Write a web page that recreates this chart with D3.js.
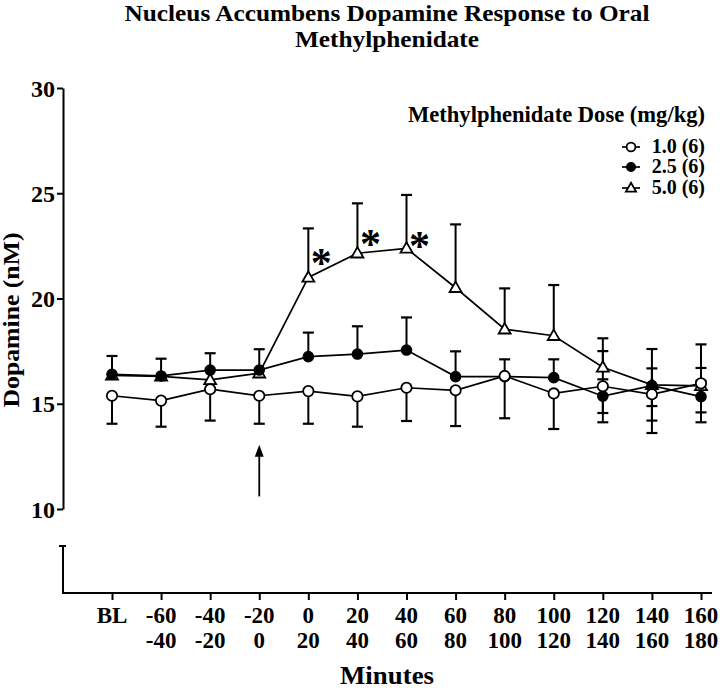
<!DOCTYPE html>
<html>
<head>
<meta charset="utf-8">
<script src="https://cdn.jsdelivr.net/npm/d3@7"></script>
<style>
  html, body { margin: 0; padding: 0; background: #fff; }
  svg { display: block; }
  text { font-family: "Liberation Serif", "Times New Roman", serif; font-weight: bold; fill: #000; }
</style>
</head>
<body>
<svg id="chart" width="720" height="692"></svg>
<script>
// ---------------- DATA ----------------
const categories    = ["BL","-60","-40","-20","0","20","40","60","80","100","120","140","160"];
const categoriesEnd = ["","-40","-20","0","20","40","60","80","100","120","140","160","180"];
const yTicks = [10, 15, 20, 25, 30];

const seriesNames = ["1.0 (6)", "2.5 (6)", "5.0 (6)"];
const seriesSymbols = ["openCircle", "filledCircle", "openTriangle"];

const dose10      = [15.38, 15.15, 15.69, 15.38, 15.60, 15.35, 15.76, 15.64, 16.32, 15.49, 15.83, 15.45, 15.97];
const dose10Up    = [null, null, null, null, null, null, null, null, null, null, 1.67, null, 1.85];
const dose10Down  = [1.33, 1.24, 1.49, 1.33, 1.55, 1.44, 1.58, 1.70, 2.01, 1.69, 1.71, 1.84, 1.85];

const dose25      = [16.40, 16.32, 16.60, 16.60, 17.24, 17.36, 17.55, 16.29, 16.29, 16.24, 15.36, 15.86, 15.34];
const dose25Up    = [0.87, 0.82, 0.80, 0.99, 1.14, 1.32, 1.55, 1.20, 0.82, 0.87, 0.80, 0.82, 0.75];
const dose25Down  = [null, null, null, null, null, null, null, null, null, null, 0.80, 0.97, 0.75];

const dose50      = [16.35, 16.30, 16.13, 16.45, 21.00, 22.15, 22.38, 20.51, 18.54, 18.23, 16.73, 15.90, 15.85];
const dose50Up    = [null, null, null, null, 2.33, 2.37, 2.54, 3.01, 1.94, 2.41, 1.38, 1.70, 0.85];
const dose50Down  = [null, null, null, null, null, null, null, null, null, null, null, 1.70, null];

// significance markers (on the 5.0 mg/kg series)
const sigCategories = ["0", "20", "40"];
const sigLevels     = [21.97, 22.87, 22.78];

// dosing arrow
const arrowCategory = "-20";
const arrowFrom = 10.6, arrowTo = 13.05;

const titleLines = ["Nucleus Accumbens Dopamine Response to Oral", "Methylphenidate"];
const legendTitle = "Methylphenidate Dose (mg/kg)";
const yLabel = "Dopamine (nM)";
const xLabel = "Minutes";

// ---------------- CHART ----------------
const svg = d3.select("#chart");

const x = d3.scalePoint().domain(categories).range([112, 701]);
const y = d3.scaleLinear().domain([10, 30]).range([509, 88]);

const axisX0 = 63, axisX1 = 712, axisY = 593, breakTop = 546;

// Title
svg.append("text").attr("x", 387).attr("y", 21).attr("text-anchor", "middle")
  .style("font-size", "23px").attr("textLength", 525).attr("lengthAdjust", "spacingAndGlyphs")
  .text(titleLines[0]);
svg.append("text").attr("x", 387).attr("y", 47).attr("text-anchor", "middle")
  .style("font-size", "23px").attr("textLength", 184).attr("lengthAdjust", "spacingAndGlyphs")
  .text(titleLines[1]);

// Y axis (upper segment)
const yAxis = d3.axisLeft(y).tickValues(yTicks).tickSize(6).tickSizeOuter(0).tickFormat(d3.format("d"));
const gy = svg.append("g").attr("transform", `translate(${axisX0},0)`).call(yAxis);
gy.select(".domain").attr("stroke", "#000").attr("stroke-width", 2);
gy.selectAll(".tick line").attr("stroke", "#000").attr("stroke-width", 2);
gy.selectAll(".tick text").attr("x", -8).attr("dy", "0.34em")
  .style("font-size", "24px").style("font-family", "'Liberation Serif', serif").style("font-weight", "bold");

// Y axis lower segment (after break)
svg.append("line").attr("x1", axisX0).attr("x2", axisX0).attr("y1", breakTop).attr("y2", axisY)
  .attr("stroke", "#000").attr("stroke-width", 2);
svg.append("line").attr("x1", axisX0 - 4).attr("x2", axisX0 + 3).attr("y1", breakTop).attr("y2", breakTop)
  .attr("stroke", "#000").attr("stroke-width", 2);

// X axis
svg.append("line").attr("x1", axisX0 - 1).attr("x2", axisX1).attr("y1", axisY).attr("y2", axisY)
  .attr("stroke", "#000").attr("stroke-width", 2);
const xAxis = d3.axisBottom(x).tickSize(7).tickSizeOuter(0).tickFormat("");
const gx = svg.append("g").attr("transform", `translate(0,${axisY})`).call(xAxis);
gx.select(".domain").remove();
gx.selectAll(".tick line").attr("stroke", "#000").attr("stroke-width", 2);

svg.append("g").selectAll("text.r1").data(categories).join("text")
  .attr("x", d => x(d)).attr("y", 623).attr("text-anchor", "middle")
  .style("font-size", "23px").text(d => d);
svg.append("g").selectAll("text.r2").data(categories).join("text")
  .attr("x", d => x(d)).attr("y", 648).attr("text-anchor", "middle")
  .style("font-size", "23px").text((d, i) => categoriesEnd[i]);

// Axis titles
svg.append("text").attr("x", 387).attr("y", 684).attr("text-anchor", "middle")
  .style("font-size", "25px").attr("textLength", 94).attr("lengthAdjust", "spacingAndGlyphs").text(xLabel);
svg.append("text").attr("transform", "translate(19,320) rotate(-90)").attr("text-anchor", "middle")
  .style("font-size", "23px").attr("textLength", 175).attr("lengthAdjust", "spacingAndGlyphs").text(yLabel);

// Series
const series = [
  { name: seriesNames[0], sym: seriesSymbols[0], vals: dose10, up: dose10Up, down: dose10Down },
  { name: seriesNames[1], sym: seriesSymbols[1], vals: dose25, up: dose25Up, down: dose25Down },
  { name: seriesNames[2], sym: seriesSymbols[2], vals: dose50, up: dose50Up, down: dose50Down }
];

const capHalf = 5.5;
const line = d3.line().x((d, i) => x(categories[i])).y(d => y(d));

function drawMarker(g, sym, cx, cy, scale) {
  const s = scale || 1;
  if (sym === "openCircle") {
    g.append("circle").attr("cx", cx).attr("cy", cy).attr("r", 5.2 * s)
      .attr("fill", "#fff").attr("stroke", "#000").attr("stroke-width", 1.8);
  } else if (sym === "filledCircle") {
    g.append("circle").attr("cx", cx).attr("cy", cy).attr("r", 5.2 * s)
      .attr("fill", "#000").attr("stroke", "#000").attr("stroke-width", 1.2);
  } else {
    const sz = d3.symbol().type(d3.symbolTriangle).size(62 * s * s);
    g.append("path").attr("d", sz()).attr("transform", `translate(${cx},${cy + 0.8 * s})`)
      .attr("fill", "#fff").attr("stroke", "#000").attr("stroke-width", 1.8);
  }
}

// error bars first
const gErr = svg.append("g");
series.forEach(s => {
  s.vals.forEach((v, i) => {
    const cx = x(categories[i]);
    [[s.up[i], 1], [s.down[i], -1]].forEach(([e, dir]) => {
      if (e == null) return;
      const yEnd = y(v + dir * e);
      gErr.append("line").attr("x1", cx).attr("x2", cx).attr("y1", y(v)).attr("y2", yEnd)
        .attr("stroke", "#000").attr("stroke-width", 2);
      gErr.append("line").attr("x1", cx - capHalf).attr("x2", cx + capHalf).attr("y1", yEnd).attr("y2", yEnd)
        .attr("stroke", "#000").attr("stroke-width", 2.2);
    });
  });
});

// lines and markers, triangles at back, open circles in front
[2, 1, 0].forEach(k => {
  const s = series[k];
  svg.append("path").datum(s.vals).attr("d", line)
    .attr("fill", "none").attr("stroke", "#000").attr("stroke-width", 1.7);
});
[2, 1, 0].forEach(k => {
  const s = series[k];
  const g = svg.append("g");
  s.vals.forEach((v, i) => drawMarker(g, s.sym, x(categories[i]), y(v)));
});

// significance asterisks
sigCategories.forEach((c, i) => {
  svg.append("text").attr("x", x(c) + 13).attr("y", y(sigLevels[i]) + 20)
    .attr("text-anchor", "middle").style("font-size", "42px").text("*");
});

// arrow
const ax = x(arrowCategory);
svg.append("line").attr("x1", ax).attr("x2", ax).attr("y1", y(arrowFrom)).attr("y2", y(arrowTo) + 9)
  .attr("stroke", "#000").attr("stroke-width", 1.8);
svg.append("path")
  .attr("d", `M${ax},${y(arrowTo)} L${ax - 4.5},${y(arrowTo) + 12} L${ax + 4.5},${y(arrowTo) + 12} Z`)
  .attr("fill", "#000");

// Legend
svg.append("text").attr("x", 705).attr("y", 122).attr("text-anchor", "end")
  .style("font-size", "23px").attr("textLength", 297).attr("lengthAdjust", "spacingAndGlyphs").text(legendTitle);
const legendBase = [153, 173, 194];
series.forEach((s, i) => {
  const g = svg.append("g");
  const cy = legendBase[i] - 6;
  g.append("line").attr("x1", 622).attr("x2", 640).attr("y1", cy).attr("y2", cy)
    .attr("stroke", "#000").attr("stroke-width", 1.7);
  drawMarker(g, s.sym, 631, cy, 0.85);
  g.append("text").attr("x", 705).attr("y", legendBase[i]).attr("text-anchor", "end")
    .style("font-size", "20px").text(s.name);
});
</script>
</body>
</html>
